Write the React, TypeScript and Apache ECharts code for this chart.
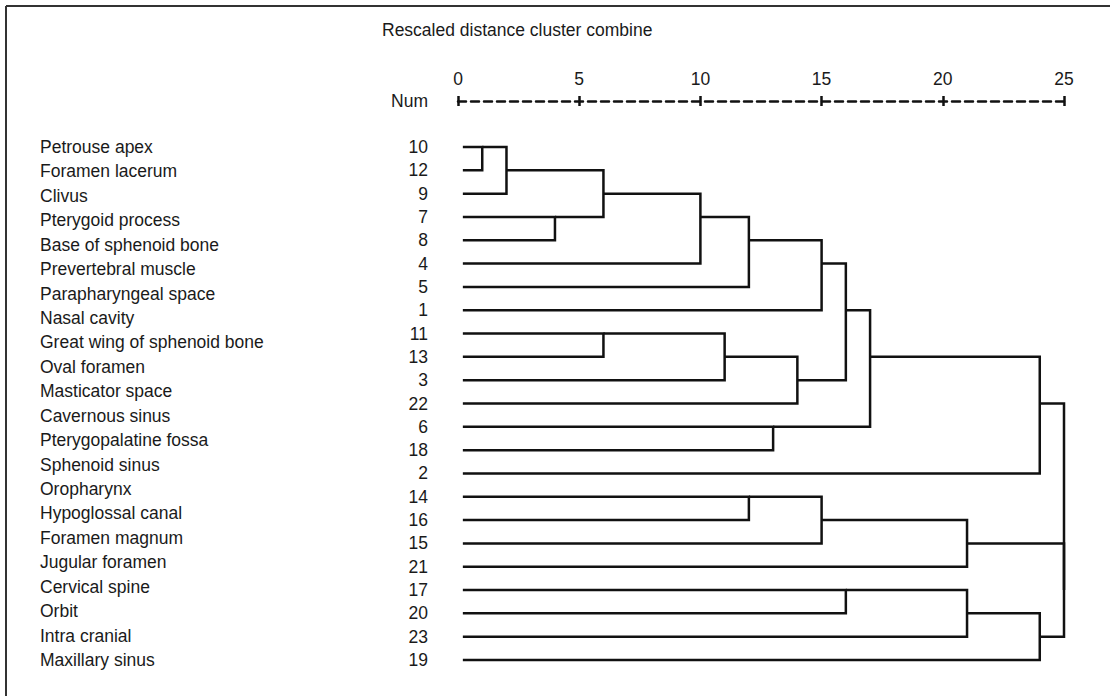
import React, { useEffect, useRef } from "react";
import * as echarts from "echarts";

const TITLE = "Rescaled distance cluster combine";
const AXIS_NAME = "Num";

// Leaf order (case numbers) as listed in the "Num" column
const LEAF_NUMS = [10, 12, 9, 7, 8, 4, 5, 1, 11, 13, 3, 22, 6, 18, 2, 14, 16, 15, 21, 17, 20, 23, 19];

// Region names as listed in the left column
const REGION_NAMES = [
  "Petrouse apex",
  "Foramen lacerum",
  "Clivus",
  "Pterygoid process",
  "Base of sphenoid bone",
  "Prevertebral muscle",
  "Parapharyngeal space",
  "Nasal cavity",
  "Great wing of sphenoid bone",
  "Oval foramen",
  "Masticator space",
  "Cavernous sinus",
  "Pterygopalatine fossa",
  "Sphenoid sinus",
  "Oropharynx",
  "Hypoglossal canal",
  "Foramen magnum",
  "Jugular foramen",
  "Cervical spine",
  "Orbit",
  "Intra cranial",
  "Maxillary sinus",
];

// Agglomeration: [child A, child B, rescaled distance]; "#k" refers to merge k
const MERGES: [string, string, number][] = [
  ["10", "12", 1],
  ["#0", "9", 2],
  ["7", "8", 4],
  ["#1", "#2", 6],
  ["11", "13", 6],
  ["#3", "4", 10],
  ["#4", "3", 11],
  ["#5", "5", 12],
  ["14", "16", 12],
  ["6", "18", 13],
  ["#6", "22", 14],
  ["#7", "1", 15],
  ["#8", "15", 15],
  ["#11", "#10", 16],
  ["17", "20", 16],
  ["#13", "#9", 17],
  ["#12", "21", 21],
  ["#14", "23", 21],
  ["#15", "2", 24],
  ["#17", "19", 24],
  ["#16", "#19", 25],
  ["#18", "#20", 25],
];

const LEAF_X = 0.2;
const FONT = "'Liberation Sans', Arial, Helvetica, sans-serif";
const TEXT_COLOR = "#1a1a1a";
const FS = 17.5;

function buildSegments() {
  const rowOf: Record<string, number> = {};
  const hOf: Record<string, number> = {};
  LEAF_NUMS.forEach((n, i) => {
    rowOf[String(n)] = i;
    hOf[String(n)] = LEAF_X;
  });
  const segs: number[][] = [];
  MERGES.forEach(([a, b, h], i) => {
    const ra = rowOf[a];
    const rb = rowOf[b];
    segs.push([h, ra, rb, hOf[a], hOf[b]]);
    rowOf["#" + i] = Math.floor((ra + rb) / 2);
    hOf["#" + i] = h;
  });
  return segs;
}

export default function App() {
  const ref = useRef<HTMLDivElement>(null);
  useEffect(() => {
    document.body.style.margin = "0";
    if (!ref.current) return;
    const chart = echarts.init(ref.current, undefined, { renderer: "svg" });
    const segs = buildSegments();
    const option: any = {
      animation: false,
      backgroundColor: "#ffffff",
      textStyle: { fontFamily: FONT },
      title: {
        text: TITLE,
        left: 382,
        top: 21,
        padding: 0,
        textStyle: { fontFamily: FONT, fontSize: FS, fontWeight: "normal", color: TEXT_COLOR },
      },
      graphic: [
        { type: "line", shape: { x1: 6, y1: 6, x2: 1110, y2: 6 }, style: { stroke: "#333", lineWidth: 2 } },
        { type: "line", shape: { x1: 6, y1: 6, x2: 6, y2: 696 }, style: { stroke: "#333", lineWidth: 2 } },
      ],
      grid: { left: 458, right: 46, top: 147, bottom: 36, containLabel: false },
      xAxis: [
        {
          type: "value",
          position: "top",
          offset: 46,
          min: 0,
          max: 25,
          interval: 5,
          name: AXIS_NAME,
          nameLocation: "start",
          nameGap: 30,
          nameTextStyle: { fontFamily: FONT, fontSize: FS, color: TEXT_COLOR, align: "right", verticalAlign: "middle" },
          axisLine: { show: true, onZero: false, lineStyle: { color: "#111", width: 2.5, type: [8, 5] } },
          axisTick: { show: true, inside: false, length: 5, lineStyle: { color: "#111", width: 2.5 } },
          axisLabel: { show: true, margin: 13, fontFamily: FONT, fontSize: FS, color: TEXT_COLOR },
          splitLine: { show: false },
        },
        {
          type: "value",
          position: "top",
          offset: 46,
          min: 0,
          max: 25,
          interval: 5,
          axisLine: { show: false, onZero: false },
          axisTick: { show: true, inside: true, length: 5, lineStyle: { color: "#111", width: 2.5 } },
          axisLabel: { show: false },
          splitLine: { show: false },
        },
      ],
      yAxis: [
        {
          type: "value",
          inverse: true,
          min: 0,
          max: LEAF_NUMS.length - 1,
          interval: 1,
          axisLine: { show: false, onZero: false },
          axisTick: { show: false },
          splitLine: { show: false },
          axisLabel: {
            show: true,
            margin: 30,
            fontFamily: FONT,
            fontSize: FS,
            color: TEXT_COLOR,
            padding: [0, 0, 6, 0],
            formatter: (v: number) => String(LEAF_NUMS[Math.round(v)] ?? ""),
          },
        },
        {
          type: "category",
          inverse: true,
          position: "left",
          boundaryGap: false,
          data: REGION_NAMES,
          axisLine: { show: false, onZero: false },
          axisTick: { show: false },
          splitLine: { show: false },
          axisLabel: {
            show: true,
            interval: 0,
            align: "left",
            margin: 418,
            fontFamily: FONT,
            fontSize: FS,
            color: TEXT_COLOR,
            padding: [0, 0, 3, 0],
          },
        },
      ],
      series: [
        {
          type: "custom",
          coordinateSystem: "cartesian2d",
          xAxisIndex: 0,
          yAxisIndex: 0,
          clip: false,
          encode: { x: 0, y: 1 },
          data: segs,
          renderItem: (_params: any, api: any) => {
            const h = api.value(0);
            const ra = api.value(1);
            const rb = api.value(2);
            const ha = api.value(3);
            const hb = api.value(4);
            const pts = [
              api.coord([ha, ra]),
              api.coord([h, ra]),
              api.coord([h, rb]),
              api.coord([hb, rb]),
            ];
            return {
              type: "polyline",
              shape: { points: pts },
              style: { stroke: "#111", lineWidth: 2.5, fill: null, lineJoin: "miter" },
            };
          },
        },
      ],
    };
    chart.setOption(option);
    return () => chart.dispose();
  }, []);
  return <div ref={ref} style={{ width: 1110, height: 696 }} />;
}
